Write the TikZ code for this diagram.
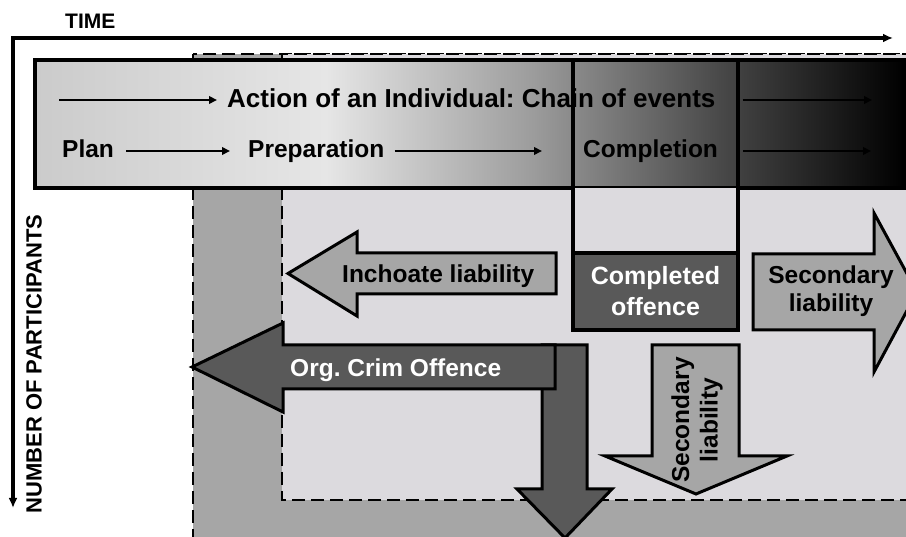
\documentclass[tikz,border=0pt]{standalone}
\usepackage{fontspec}
\setmainfont{Liberation Sans}
\usetikzlibrary{arrows.meta}
\definecolor{outerfill}{HTML}{A6A6A6}
\definecolor{innerfill}{HTML}{DCDADE}
\definecolor{darkfill}{HTML}{595959}
\definecolor{midfill}{HTML}{A6A6A6}
\definecolor{gA}{HTML}{CBCBCB}
\definecolor{gB}{HTML}{E6E6E6}
\definecolor{gC}{HTML}{9C9C9C}
\definecolor{gD}{HTML}{8A8A8A}
\definecolor{gE}{HTML}{404040}
\pgfdeclarehorizontalshading{bannershade}{100bp}{color(0bp)=(gA); color(25bp)=(gA); color(41.74bp)=(gB); color(53.65bp)=(gC); color(55.95bp)=(gD); color(65.56bp)=(gE); color(75bp)=(black); color(100bp)=(black)}
\tikzset{
  lbl/.style={font=\bfseries\fontsize{24.5}{28.5}\selectfont, inner sep=0pt, text=black},
  bigl/.style={font=\bfseries\fontsize{26}{30}\selectfont, inner sep=0pt, text=black},
  axl/.style={font=\bfseries\fontsize{21}{25}\selectfont, inner sep=0pt, text=black},
  axlv/.style={font=\bfseries\fontsize{22}{26}\selectfont, inner sep=0pt, text=black},
  dashbox/.style={draw=black, line width=2.5pt, dash pattern=on 13pt off 6pt},
  axisline/.style={draw=black, line width=3.5pt, {Latex[length=10pt,width=9pt]}-{Latex[length=10pt,width=9pt]}},
  evarrow/.style={draw=black, line width=2.2pt, -{Triangle[length=8pt,width=7.5pt]}},
  blockarrow/.style={draw=black, line width=3pt, line join=miter},
}
\begin{document}
\frenchspacing
\begin{tikzpicture}[x=1pt,y=-1pt]
\useasboundingbox (0,0) rectangle (906,537);
\clip (0,0) rectangle (906,537);
\fill[white] (0,0) rectangle (906,537);
% regions
\path[dashbox, fill=outerfill] (193,54) rectangle (960,600);
\path[dashbox, fill=innerfill] (282,54) rectangle (960,500);
% axes
\coordinate (origin) at (13,38);
\coordinate (tend) at (893,38);
\coordinate (pend) at (13,508);
\draw[axisline] (tend) -- (origin) -- (pend);
\node[axl, anchor=base west] (time) at (65,28.3) {TIME};
\node[axlv, rotate=90, anchor=base] (npart) at (41.7,364) {NUMBER OF PARTICIPANTS};
% banner
\path[draw=black, line width=3.5pt, shading=bannershade] (35,60) rectangle (904,188);
% completion column
\fill[innerfill] (573,188) rectangle (738,253);
\fill[darkfill] (573,253) rectangle (738,330);
\draw[line width=3.5pt] (573,253) -- (738,253);
\draw[line width=3.5pt] (573,60) rectangle (738,330);
% banner texts
\node[bigl, anchor=base west] (action) at (227,107.3) {Action of an Individual: Chain of events};
\node[lbl, anchor=base west] (plan) at (62,158) {Plan};
\node[lbl, anchor=base west] (prep) at (248,158) {Preparation};
\node[lbl, anchor=base west] (compl) at (583,158) {Completion};
\coordinate (s1) at (59,100);
\coordinate (e1) at (872,100);
\coordinate (e2) at (871,151);
\draw[evarrow] (s1) -- ([shift={(-10pt,7.3pt)}]action.base west);
\draw[evarrow] ([shift={(27pt,7.3pt)}]action.base east) -- (e1);
\draw[evarrow] ([shift={(12pt,7pt)}]plan.base east) -- ([shift={(-18pt,7pt)}]prep.base west);
\draw[evarrow] ([shift={(10pt,7pt)}]prep.base east) -- ([shift={(-41pt,7pt)}]compl.base west);
\draw[evarrow] ([shift={(25pt,7pt)}]compl.base east) -- (e2);
% completed offence text
\node[lbl, font=\bfseries\fontsize{25}{31}\selectfont, text=white, align=center] (coff) at (655.5,291) {Completed\\offence};
% inchoate arrow
\path[blockarrow, fill=midfill] (288,273.5) -- (357,232) -- (357,253) -- (556,253) -- (556,294) -- (357,294) -- (357,316) -- cycle;
\node[lbl, anchor=base west] (inch) at (342,283) {Inchoate liability};
% secondary right arrow
\path[blockarrow, fill=midfill] (753,254) -- (874,254) -- (874,213) -- (917,292) -- (874,372) -- (874,330) -- (753,330) -- cycle;
\node[lbl, align=center] (secr) at (831,291) {Secondary\\liability};
% org crim arrows
\path[blockarrow, fill=darkfill] (542,345) -- (587,345) -- (587,489) -- (612,489) -- (565,538) -- (517,489) -- (542,489) -- cycle;
\path[blockarrow, fill=darkfill] (192,367) -- (283,323) -- (283,345) -- (555,345) -- (555,389) -- (283,389) -- (283,412) -- cycle;
\node[lbl, text=white, anchor=base west] (org) at (290,377) {Org. Crim Offence};
% secondary down arrow
\path[blockarrow, fill=midfill] (652,345) -- (739,345) -- (739,456) -- (787,456) -- (696,494) -- (605,456) -- (652,456) -- cycle;
\node[lbl, rotate=90, align=center] (secd) at (697,420) {Secondary\\liability};
\end{tikzpicture}
\end{document}
